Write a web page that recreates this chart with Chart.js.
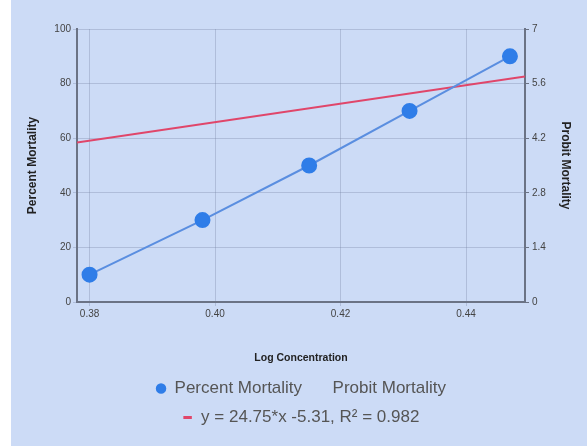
<!DOCTYPE html>
<html>
<head>
<meta charset="utf-8">
<script src="https://cdn.jsdelivr.net/npm/chart.js@4.4.0/dist/chart.umd.min.js"></script>
<style>
  html, body { margin: 0; padding: 0; background: #ffffff; }
  #wrap { position: absolute; left: 11px; top: 0; width: 576px; height: 446px; background: #ccdbf6; }
</style>
</head>
<body>
<div id="wrap"><canvas id="mortalityChart" width="576" height="446"></canvas></div>
<script>
// values
const logConcentration = [0.380, 0.398, 0.415, 0.431, 0.447];
const percentMortality = [10, 30, 50, 70, 90];
const probitMortality = [];
const trendX = [0.378, 0.4494];
const trendY = [4.09, 5.78];
const trendLabel = "y = 24.75*x -5.31, R\u00b2 = 0.982";

const xTicks = { min: 0.378, max: 0.4494, step: 0.02 };
const leftTicks = { min: 0, max: 100, step: 20 };
const rightTicks = { min: 0, max: 7, step: 1.4 };

function toPoints(xs, ys) {
  return xs.map((x, i) => ({ x, y: ys[i] }));
}

const tickFont = { family: "Arial, 'Liberation Sans', sans-serif", size: 10 };
const titleFont = { family: "Arial, 'Liberation Sans', sans-serif", size: 12, weight: "bold" };

new Chart(document.getElementById("mortalityChart"), {
  type: "scatter",
  data: {
    datasets: [
      {
        label: "Percent Mortality",
        data: toPoints(logConcentration, percentMortality),
        yAxisID: "y",
        showLine: true,
        borderColor: "#5a8ee0",
        borderWidth: 2,
        backgroundColor: "#2f7de8",
        pointBackgroundColor: "#2f7de8",
        pointBorderColor: "#2f7de8",
        pointRadius: 7,
        pointStyle: "circle"
      },
      {
        label: "Probit Mortality",
        data: toPoints(logConcentration, probitMortality),
        yAxisID: "y1",
        borderColor: "transparent",
        backgroundColor: "transparent",
        pointStyle: "circle"
      },
      {
        label: trendLabel,
        data: toPoints(trendX, trendY),
        yAxisID: "y1",
        showLine: true,
        borderColor: "#e0466a",
        backgroundColor: "#e0466a",
        borderWidth: 2,
        pointRadius: 0,
        pointStyle: "line"
      }
    ]
  },
  options: {
    responsive: false,
    animation: false,
    layout: { padding: { top: 29, bottom: 10, left: 10, right: 0 } },
    plugins: {
      tooltip: { enabled: false },
      legend: {
        position: "bottom",
        fullSize: false,
        labels: {
          usePointStyle: true,
          boxWidth: 10,
          boxHeight: 6,
          padding: 12,
          color: "#555555",
          font: { family: "Arial, 'Liberation Sans', sans-serif", size: 17 },
          generateLabels(chart) {
            const items = Chart.defaults.plugins.legend.labels.generateLabels(chart);
            items.forEach(item => { if (item.pointStyle === "line") item.lineWidth = 3; });
            return items;
          }
        }
      }
    },
    scales: {
      x: {
        type: "linear",
        min: xTicks.min,
        max: xTicks.max,
        afterFit: s => { s.height = 66; },
        ticks: { stepSize: xTicks.step, includeBounds: false, color: "#444", font: tickFont, padding: 2 },
        grid: { color: "rgba(120,135,165,0.35)", tickLength: 4 },
        border: { color: "#6b7385", width: 2 },
        title: { display: true, text: "Log Concentration", color: "#222", font: { ...titleFont, size: 10.5 }, padding: { top: 20 } }
      },
      y: {
        position: "left",
        min: leftTicks.min,
        max: leftTicks.max,
        afterFit: s => { s.width = 56; },
        ticks: { stepSize: leftTicks.step, color: "#444", font: tickFont, padding: 2 },
        grid: { color: "rgba(120,135,165,0.35)", tickLength: 4 },
        border: { color: "#6b7385", width: 2 },
        title: { display: true, text: "Percent Mortality", color: "#222", font: titleFont, padding: { bottom: 10 } }
      },
      y1: {
        position: "right",
        min: rightTicks.min,
        max: rightTicks.max,
        afterFit: s => { s.width = 62; },
        ticks: { stepSize: rightTicks.step, color: "#444", font: tickFont, padding: 3 },
        grid: { drawOnChartArea: false, tickLength: 4, color: "#6b7385" },
        border: { color: "#6b7385", width: 2 },
        title: { display: true, text: "Probit Mortality", color: "#222", font: titleFont, padding: { top: 14 } }
      }
    }
  }
});
</script>
</body>
</html>
